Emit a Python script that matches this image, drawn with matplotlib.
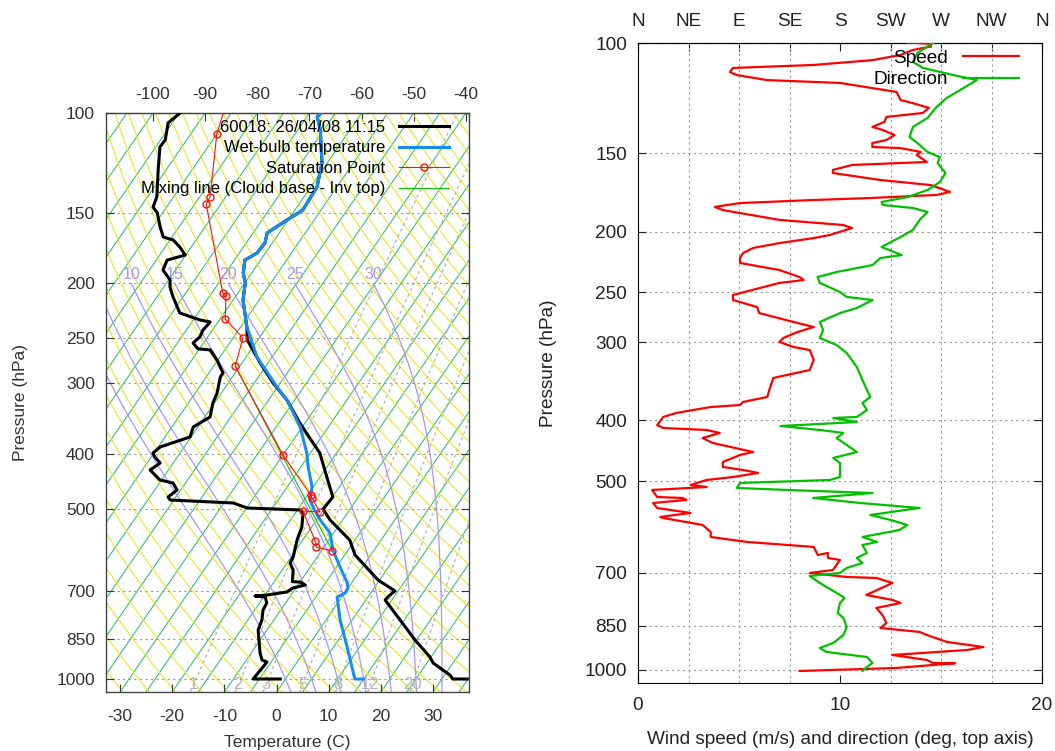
import numpy as np
import matplotlib
matplotlib.use("Agg")
import matplotlib.pyplot as plt
from matplotlib.ticker import NullLocator

plt.rcParams['font.family'] = ['Liberation Sans', 'DejaVu Sans']
plt.rcParams['axes.unicode_minus'] = False

# ---- sounding (left panel): pressure in hPa, temperature in C ----
temp_p = [1000.0, 1000.0, 983.9, 937.0, 914.4, 853.3, 786.6, 725.2, 713.4, 699.0, 668.5, 603.8, 568.1,
          523.7, 500.8, 476.9, 457.9, 439.6, 398.8, 382.9, 352.9, 321.4, 299.9, 276.5, 251.8,
          238.8, 214.0, 199.7, 191.8, 181.9, 176.7, 169.7, 162.9, 154.5, 148.4, 144.2, 135.1,
          127.6, 122.6, 107.1, 101.6, 99.6]
temp_T = [34.8, 32.1, 31.0, 26.2, 24.8, 19.7, 14.2, 8.7, 8.9, 9.4, 4.7, -3.0, -6.0,
          -12.4, -15.2, -14.9, -16.8, -18.7, -23.2, -25.8, -31.0, -36.5, -41.4, -46.5, -52.0,
          -53.8, -58.1, -59.9, -61.6, -63.0, -61.6, -61.4, -62.3, -60.2, -58.5, -58.6, -58.8,
          -60.1, -61.0, -65.7, -68.0, -67.7]

dew_p = [1000.0, 1000.0, 952.4, 933.2, 925.6, 899.6, 819.3, 786.6, 755.2, 734.1,
         716.4, 713.4, 710.5, 701.9, 690.6, 682.2, 673.9, 673.0, 641.8, 623.8,
         608.8, 568.1, 538.8, 509.0, 502.8, 498.7, 488.7, 482.8, 476.9, 463.5,
         450.5, 445.0, 427.3, 415.3, 405.3, 398.8, 389.1, 373.6, 358.7, 344.4,
         325.3, 312.4, 292.7, 288.0, 273.1, 262.2, 261.0, 254.9, 248.7, 241.7,
         234.0, 232.1, 225.6, 211.4, 203.0, 197.3, 189.4, 181.9, 178.2, 172.5,
         167.6, 165.6, 159.0, 150.2, 146.6, 140.7, 126.1, 114.8, 111.6, 104.1, 100.0]
dew_T = [-1.0, -6.2, -5.9, -5.8, -7.0, -8.3, -11.7, -12.3, -13.4, -13.6,
         -14.7, -16.8, -14.6, -11.2, -10.6, -8.6, -10.0, -11.5, -12.9, -14.4,
         -14.6, -16.1, -16.9, -18.5, -19.5, -29.9, -33.2, -45.7, -46.5, -45.7,
         -47.4, -50.3, -53.5, -52.5, -54.3, -55.2, -54.6, -50.2, -50.9, -49.0,
         -50.3, -50.8, -52.3, -52.3, -55.2, -57.8, -60.3, -62.0, -61.5, -61.8,
         -61.5, -63.7, -68.5, -71.9, -73.8, -74.7, -77.4, -77.9, -75.1, -77.2,
         -79.4, -81.7, -83.6, -86.0, -87.6, -88.2, -91.5, -94.2, -94.1, -95.8, -94.8]

wet_p = [1000.0, 1000.0, 877.9, 786.6, 716.4, 704.8, 690.6, 673.9, 634.0, 591.7,
         552.1, 523.7, 496.7, 482.8, 457.9, 422.1, 398.8, 358.7, 321.4, 304.9,
         269.8, 238.8, 214.0, 199.7, 191.8, 181.9, 176.7, 169.7, 162.9, 154.5,
         148.4, 144.2, 135.1, 127.6, 122.6, 107.1, 101.6, 99.6]
wet_T = [14.9, 13.3, 7.6, 2.7, -0.9, 0.1, 0.0, -1.0, -4.3, -7.9,
         -10.7, -14.3, -17.4, -18.9, -20.2, -23.6, -25.7, -30.4, -36.5, -40.1,
         -47.9, -53.8, -58.1, -59.9, -61.6, -63.0, -61.6, -61.4, -62.3, -60.2,
         -58.5, -58.6, -58.8, -60.1, -61.0, -65.7, -68.0, -67.7]

sat_p = [94.8, 108.9, 140.7, 144.8, 208.0, 210.5, 231.2, 249.7, 279.9, 402.0,
         473.0, 478.8, 506.9, 504.8, 570.4, 584.5, 594.1]
sat_T = [-87.5, -85.0, -78.0, -77.8, -62.9, -61.9, -59.0, -53.1, -50.9, -30.0,
         -19.4, -18.8, -15.4, -18.8, -12.5, -11.5, -8.0]

mix_p = [279.9, 591.7]
mix_T = [-50.9, -8.1]

# ---- wind (right panel) ----
speed_p = [99.8, 100.3, 101.3, 102.6, 104.5, 106.5, 108.4, 109.6, 111.3, 112.5,
           114.6, 115.8, 118.0, 119.7, 123.3, 124.7, 126.9, 129.3, 131.2, 133.6,
           136.1, 137.6, 140.2, 142.8, 144.4, 146.5, 147.1, 149.2, 150.9, 154.8,
           155.4, 156.5, 159.4, 161.2, 165.4, 168.5, 172.8, 174.7, 176.7, 178.0,
           180.0, 182.6, 184.7, 191.5, 195.1, 197.3, 202.4, 204.7, 208.5, 212.3,
           216.3, 220.3, 224.3, 230.2, 236.2, 238.8, 241.4, 252.3, 257.0, 263.7,
           269.6, 278.6, 283.8, 289.0, 295.4, 299.8, 305.4, 308.8, 320.3, 332.3,
           342.2, 357.6, 366.9, 373.7, 377.9, 380.7, 389.1, 394.9, 406.7, 411.2,
           414.2, 418.8, 426.6, 434.5, 449.1, 454.1, 465.9, 474.5, 479.8, 485.0,
           492.3, 497.7, 506.9, 510.7, 516.3, 529.8, 531.7, 535.6, 541.6, 551.6,
           561.8, 570.1, 572.3, 587.1, 602.4, 613.6, 624.9, 636.5, 655.5, 650.7,
           662.8, 667.7, 692.7, 700.3, 710.7, 713.3, 726.5, 759.3, 773.3, 781.8,
           796.4, 817.1, 841.5, 857.1, 869.7, 879.4, 902.3, 919.0, 929.2, 946.4,
           964.0, 974.6, 975.5, 981.8, 992.7, 1000.0, 1003.7]
speed_ms = [13.3, 14.5, 14.5, 13.6, 13.0, 11.6, 8.7, 4.7, 4.55, 4.9,
            6.4, 10.0, 11.6, 12.8, 13.0, 13.6, 14.4, 14.1, 12.3, 12.2,
            11.6, 12.1, 12.7, 12.3, 11.6, 11.6, 13.0, 14.0, 13.8, 14.3,
            13.0, 10.6, 9.65, 9.65, 12.0, 14.5, 15.45, 14.8, 11.5, 8.7,
            5.05, 3.8, 4.2, 7.0, 10.15, 10.6, 9.5, 8.7, 7.0, 5.7,
            5.2, 5.05, 5.05, 7.0, 8.0, 8.2, 7.0, 4.7, 4.7, 5.9,
            6.0, 7.7, 8.7, 7.9, 7.2, 7.0, 7.7, 8.5, 8.7, 8.5,
            6.7, 6.5, 6.4, 5.2, 5.05, 3.6, 1.9, 1.25, 0.95, 1.25,
            3.4, 4.05, 3.2, 3.7, 5.7, 5.05, 4.2, 4.2, 5.2, 5.95,
            4.7, 3.4, 2.6, 3.4, 0.7, 0.95, 2.2, 2.4, 0.75, 0.95,
            2.6, 1.1, 1.25, 3.2, 3.6, 3.6, 5.4, 8.7, 8.9, 9.4,
            9.4, 10.0, 9.65, 8.5, 10.35, 11.8, 12.6, 11.3, 12.6, 13.0,
            11.8, 12.1, 12.3, 12.0, 13.95, 14.3, 15.3, 17.1, 16.3, 12.6,
            14.3, 14.6, 15.7, 14.6, 12.8, 9.65, 8.0]

dir_p = [100.0, 103.7, 107.2, 109.6, 112.5, 114.6, 118.0, 122.4, 126.5, 131.7,
         136.1, 141.2, 144.4, 149.2, 152.0, 155.4, 161.2, 166.6, 171.6, 176.1,
         179.3, 181.3, 183.3, 186.0, 191.5, 198.7, 203.9, 211.5, 217.9, 220.3,
         226.0, 231.9, 236.2, 241.4, 249.5, 254.1, 257.0, 264.6, 269.6, 278.6,
         286.9, 295.4, 303.2, 312.2, 328.7, 344.7, 357.6, 366.9, 375.1, 384.9,
         394.9, 396.4, 402.3, 408.2, 414.2, 418.8, 426.6, 449.1, 459.1, 467.6,
         492.3, 497.7, 503.2, 512.5, 516.3, 522.1, 531.7, 541.6, 551.6, 565.9,
         576.4, 587.1, 598.0, 613.6, 624.9, 631.9, 650.7, 662.8, 675.1, 687.6,
         700.3, 708.1, 726.5, 759.3, 767.7, 781.8, 811.2, 826.2, 853.9, 879.4,
         905.6, 922.4, 936.0, 953.4, 974.6, 989.1, 1003.7]
dir_deg = [263, 249, 245, 254, 281, 302, 290, 275, 266, 258,
           245, 242, 249, 258, 269, 267, 274, 269, 258, 240,
           217, 218, 245, 258, 251, 245, 234, 217, 235, 216,
           209, 177, 160, 162, 180, 186, 209, 195, 180, 162,
           165, 162, 177, 186, 195, 200, 204, 207, 200, 204,
           195, 174, 195, 127, 162, 183, 177, 195, 174, 180,
           180, 171, 91, 88, 133, 209, 156, 198, 251, 207,
           225, 240, 233, 200, 213, 200, 204, 195, 200, 186,
           180, 153, 162, 180, 184, 180, 178, 183, 186, 183,
           174, 162, 168, 204, 209, 204, 200]

p_ticks = [100, 150, 200, 250, 300, 400, 500, 700, 850, 1000]
compass = ['N', 'NE', 'E', 'SE', 'S', 'SW', 'W', 'NW', 'N']
theta_w_lines = [0, 5, 10, 15, 20, 25, 30]
theta_w_labels = [10, 15, 20, 25, 30]
mixr_lines = [1, 2, 3, 5, 8, 12, 20]

# skew-T geometry
P0 = 1054.3
SKEW = 74.6
TOP_OFF = SKEW * np.log10(P0 / 100.0)


def skew(T, p):
    return np.asarray(T) + SKEW * np.log10(P0 / np.asarray(p, dtype=float))


def theta_e(Tk, p):
    es = 6.112 * np.exp(17.67 * (Tk - 273.15) / (Tk - 29.65))
    r = 0.622 * es / (p - es)
    return Tk * (1000.0 / p) ** 0.2854 * np.exp(2.5e6 * r / (1004.0 * Tk))


def moist_T(thw, p):
    target = theta_e(thw + 273.15, 1000.0)
    lo = np.full_like(p, 150.0)
    hi = np.full_like(p, 310.0)
    for _ in range(50):
        mid = 0.5 * (lo + hi)
        f = theta_e(mid, p) - target
        hi = np.where(f > 0, mid, hi)
        lo = np.where(f > 0, lo, mid)
    return 0.5 * (lo + hi) - 273.15


def mixr_T(w, p):
    e = w * p / (622.0 + w)
    a = np.log(e / 6.112)
    return 243.5 * a / (17.67 - a)


fig = plt.figure(figsize=(10.55, 7.51), dpi=100)
W, H = 1055.0, 751.0
FS_L = 12.5   # left panel text
FS_R = 13.7   # right panel text

# ================= left: skew-T =================
ax = fig.add_axes([106 / W, 1 - 692 / H, 363 / W, 579 / H])
ax.set_yscale('log')
ax.set_ylim(P0, 100)
ax.set_xlim(-32.7, 36.9)

pg = np.geomspace(P0, 90, 200)
for T in range(-160, 45, 5):
    ax.plot(skew(T, pg), pg, color='#30bb70', lw=0.75, zorder=1)
for th in range(230, 460, 5):
    Td = th * (pg / 1000.0) ** 0.2854 - 273.15
    ax.plot(skew(Td, pg), pg, color='#e6e620', lw=0.75, zorder=1)
pm = np.geomspace(P0, 200, 150)
for thw in theta_w_lines:
    Tm = moist_T(thw, pm)
    ax.plot(skew(Tm, pm), pm, color='#a797ee', lw=0.9, zorder=1.2)
    if thw in theta_w_labels:
        ax.annotate(str(thw), (skew(Tm[-1], 200), 200), xytext=(0, 1),
                    textcoords='offset points', ha='center', va='bottom',
                    color='#a898f0', fontsize=11.5, zorder=1.3)
for w in mixr_lines:
    Tw = mixr_T(w, pg)
    ax.plot(skew(Tw, pg), pg, color='#b4b4b4', lw=0.9, ls=(0, (2.5, 2.5)), zorder=1.2)
    ax.text(skew(mixr_T(w, 1024.7), 1024.7), 1024.7, str(w), ha='center', va='center',
            color='#b4b4b4', fontsize=12, zorder=1.3)

ax.grid(axis='y', color='#9a9a9a', ls=(0, (2, 3)), lw=0.8)

ax.plot(skew(temp_T, temp_p), temp_p, color='black', lw=2.2, zorder=5,
        label='60018: 26/04/08 11:15')
ax.plot(skew(dew_T, dew_p), dew_p, color='black', lw=2.2, zorder=5)
ax.plot(skew(wet_T, wet_p), wet_p, color='#1a8cf0', lw=2.2, zorder=6,
        label='Wet-bulb temperature')
ax.plot(skew(sat_T, sat_p), sat_p, color='#ff1010', lw=0.8, marker='o', ms=5,
        mfc='none', mew=1.0, zorder=7, label='Saturation Point')
ax.plot(skew(mix_T, mix_p), mix_p, color='#10c010', lw=0.8, zorder=6.5,
        label='Mixing line (Cloud base - Inv top)')

ax.set_yticks(p_ticks)
ax.set_yticklabels([str(v) for v in p_ticks])
ax.yaxis.set_minor_locator(NullLocator())
ax.set_xticks(range(-30, 31, 10))
ax.tick_params(axis='both', which='major', direction='in', length=6, labelsize=FS_L,
               colors='#333333', right=True, pad=8)
ax.tick_params(axis='x', pad=12)
for s in ax.spines.values():
    s.set_color('#444444')
    s.set_linewidth(1.0)
sec = ax.secondary_xaxis('top', functions=(lambda x: x - TOP_OFF, lambda t: t + TOP_OFF))
sec.set_xticks(range(-100, -39, 10))
sec.tick_params(direction='in', length=6, labelsize=FS_L, colors='#333333', pad=8)
sec.spines['top'].set_color('#444444')
ax.set_ylabel('Pressure (hPa)', fontsize=FS_L, color='#333333', labelpad=20)
ax.set_xlabel('Temperature (C)', fontsize=FS_L, color='#333333', labelpad=8)

leg = ax.legend(loc='upper right', bbox_to_anchor=(0.946, 0.988), frameon=False,
                markerfirst=False, fontsize=12, handlelength=3.0, handletextpad=0.85,
                labelspacing=0.33, borderpad=0, borderaxespad=0)
leg.set_zorder(10)

# ================= right: wind =================
ax2 = fig.add_axes([638 / W, 1 - 683 / H, 404 / W, 640 / H])
ax2.set_yscale('log')
ax2.set_ylim(1049, 100)
ax2.set_xlim(0, 20)
ax2.plot(speed_ms, speed_p, color='#ff0000', lw=1.6, label='Speed', zorder=3)
ax2.plot(np.array(dir_deg) / 18.0, dir_p, color='#00c000', lw=1.6, label='Direction', zorder=3)
ax2.set_yticks(p_ticks)
ax2.set_yticklabels([str(v) for v in p_ticks])
ax2.yaxis.set_minor_locator(NullLocator())
ax2.set_xticks([0, 10, 20])
ax2.set_xticks(np.arange(0, 20.1, 2.5), minor=True)
ax2.grid(axis='y', which='major', color='#999999', ls=(0, (2, 3)), lw=0.8)
ax2.grid(axis='x', which='minor', color='#999999', ls=(0, (2, 3)), lw=0.8)
ax2.tick_params(axis='both', which='major', direction='in', length=6, labelsize=FS_R,
                colors='#222222', right=True, pad=8)
ax2.tick_params(axis='x', pad=10)
ax2.tick_params(axis='x', which='minor', length=0)
sec2 = ax2.secondary_xaxis('top', functions=(lambda s: s * 18.0, lambda d: d / 18.0))
sec2.set_xticks(range(0, 361, 45))
sec2.set_xticklabels(compass)
sec2.tick_params(direction='in', length=6, labelsize=FS_R, colors='#222222', pad=9)
ax2.set_ylabel('Pressure (hPa)', fontsize=FS_R, color='#222222', labelpad=20)
ax2.set_xlabel('Wind speed (m/s) and direction (deg, top axis)', fontsize=FS_R,
               color='#222222', labelpad=12)
ax2.legend(loc='upper right', bbox_to_anchor=(0.942, 0.99), frameon=False,
           markerfirst=False, fontsize=FS_R, handlelength=2.9, handletextpad=0.8,
           labelspacing=0.22, borderpad=0, borderaxespad=0)

fig.savefig('out.png', dpi=100)
